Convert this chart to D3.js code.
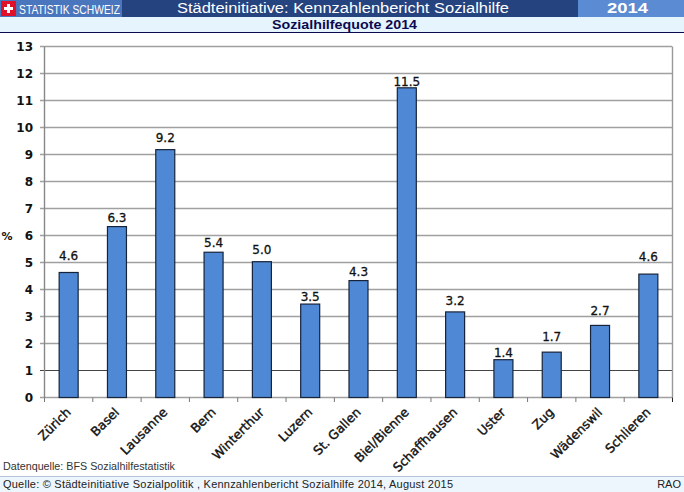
<!DOCTYPE html>
<html lang="de">
<head>
  <meta charset="utf-8" />
  <title>Sozialhilfequote 2014</title>
  <style>
    html, body { margin: 0; padding: 0; background: #fff; }
    svg { display: block; }
    text { font-family: "Liberation Sans", Arial, sans-serif; }
    .val, .tick-lab, .cat { font-family: "DejaVu Sans", Verdana, sans-serif; fill: #111; }
  </style>
</head>
<body>
<script src="https://cdn.jsdelivr.net/npm/d3@7"></script>
<script>
  // v = bar height, label = printed value, gap = label lift above the bar
  const data = [
    {city: "Zürich", v: 4.63, label: "4.6", gap: 12},
    {city: "Basel", v: 6.33, label: "6.3", gap: 5},
    {city: "Lausanne", v: 9.18, label: "9.2", gap: 8},
    {city: "Bern", v: 5.38, label: "5.4", gap: 5},
    {city: "Winterthur", v: 5.03, label: "5.0", gap: 8},
    {city: "Luzern", v: 3.46, label: "3.5", gap: 3},
    {city: "St. Gallen", v: 4.33, label: "4.3", gap: 5},
    {city: "Biel/Bienne", v: 11.47, label: "11.5", gap: 2},
    {city: "Schaffhausen", v: 3.17, label: "3.2", gap: 7},
    {city: "Uster", v: 1.4, label: "1.4", gap: 3},
    {city: "Zug", v: 1.68, label: "1.7", gap: 11},
    {city: "Wädenswil", v: 2.67, label: "2.7", gap: 10},
    {city: "Schlieren", v: 4.57, label: "4.6", gap: 13},
  ];

  const svg = d3.select("body").append("svg")
      .attr("width", 684)
      .attr("height", 492);

  // header
  svg.append("rect").attr("width", 684).attr("height", 17).attr("fill", "#24437f");
  svg.append("rect").attr("width", 122).attr("height", 17).attr("fill", "#4a76bd");
  svg.append("rect").attr("x", 578).attr("width", 106).attr("height", 17).attr("fill", "#5b8bd3");
  svg.append("rect").attr("y", 17).attr("width", 684).attr("height", 15).attr("fill", "#e6f4fd");
  svg.append("rect").attr("y", 32).attr("width", 684).attr("height", 1).attr("fill", "#0a0a50");

  // swiss flag
  svg.append("rect").attr("x", 1).attr("y", 1).attr("width", 15).attr("height", 15).attr("fill", "#e0102a");
  svg.append("rect").attr("x", 4).attr("y", 7).attr("width", 9).attr("height", 3).attr("fill", "#fff");
  svg.append("rect").attr("x", 7).attr("y", 4).attr("width", 3).attr("height", 9).attr("fill", "#fff");

  svg.append("text").attr("x", 19).attr("y", 14)
      .attr("font-size", 13.5).attr("fill", "#fff")
      .attr("textLength", 101).attr("lengthAdjust", "spacingAndGlyphs")
      .text("STATISTIK SCHWEIZ");
  svg.append("text").attr("x", 177).attr("y", 13)
      .attr("font-size", 15.5).attr("fill", "#fff")
      .attr("textLength", 332).attr("lengthAdjust", "spacingAndGlyphs")
      .text("Städteinitiative: Kennzahlenbericht Sozialhilfe");
  svg.append("text").attr("x", 607).attr("y", 13)
      .attr("font-size", 15).attr("font-weight", "bold").attr("fill", "#fff")
      .attr("textLength", 41).attr("lengthAdjust", "spacingAndGlyphs")
      .text("2014");
  svg.append("text").attr("x", 272).attr("y", 29)
      .attr("font-size", 13).attr("font-weight", "bold").attr("fill", "#0a0a50")
      .attr("textLength", 145).attr("lengthAdjust", "spacingAndGlyphs")
      .text("Sozialhilfequote 2014");

  // scales
  const x = d3.scaleBand(data.map(d => d.city), [44.5, 672.5]);
  const y = d3.scaleLinear([0, 13], [397.5, 46.5]);
  const barW = 19;

  // grid
  svg.append("g").selectAll("line")
    .data(d3.range(0, 14))
    .join("line")
      .attr("x1", 40)
      .attr("x2", 672)
      .attr("y1", d => y(d))
      .attr("y2", d => y(d))
      .attr("stroke", d => d == 1 ? "#444" : "#a0a0a0")
      .attr("stroke-width", d => d == 1 ? 1 : 1.4);

  // frame
  svg.append("line").attr("x1", 44.5).attr("x2", 44.5).attr("y1", 46.5).attr("y2", 397.5)
      .attr("stroke", "#888").attr("stroke-width", 1.4);
  svg.append("line").attr("x1", 672.5).attr("x2", 672.5).attr("y1", 46.5).attr("y2", 397.5)
      .attr("stroke", "#999").attr("stroke-width", 1.4);

  // x ticks
  svg.append("g").selectAll("line")
    .data(d3.range(0, 14))
    .join("line")
      .attr("x1", i => 44.5 + i * x.step())
      .attr("x2", i => 44.5 + i * x.step())
      .attr("y1", 397.5)
      .attr("y2", 402)
      .attr("stroke", i => i == 13 ? "#222" : "#777");

  // y labels
  svg.append("g").selectAll("text")
    .data(d3.range(0, 14))
    .join("text")
      .attr("class", "tick-lab")
      .attr("x", 33)
      .attr("y", d => y(d) + 4.5)
      .attr("text-anchor", "end")
      .attr("font-size", 12)
      .attr("font-weight", "bold")
      .text(d => d);

  svg.append("text").attr("class", "tick-lab")
      .attr("x", 7).attr("y", 240)
      .attr("text-anchor", "middle").attr("font-size", 11).attr("font-weight", "bold")
      .text("%");

  // bars
  svg.append("g").selectAll("rect")
    .data(data)
    .join("rect")
      .attr("x", d => x(d.city) + x.bandwidth() / 2 - barW / 2)
      .attr("y", d => y(d.v))
      .attr("width", barW)
      .attr("height", d => y(0) - y(d.v))
      .attr("fill", "#4f88d4")
      .attr("stroke", "#16243a")
      .attr("stroke-width", 1.2);

  // value labels
  svg.append("g").selectAll("text")
    .data(data)
    .join("text")
      .attr("class", "val")
      .attr("x", d => x(d.city) + x.bandwidth() / 2)
      .attr("y", d => y(d.v) - d.gap)
      .attr("text-anchor", "middle")
      .attr("font-size", 12)
      .style("stroke", "#111")
      .style("stroke-width", 0.3)
      .text(d => d.label);

  // category labels
  svg.append("g").selectAll("text")
    .data(data)
    .join("text")
      .attr("class", "cat")
      .attr("text-anchor", "end")
      .attr("font-size", 12.5)
      .style("stroke", "#111")
      .style("stroke-width", 0.4)
      .attr("transform", d => `translate(${x(d.city) + x.bandwidth() / 2 + 3},${413}) rotate(-45)`)
      .text(d => d.city);

  // footer
  svg.append("text").attr("x", 3).attr("y", 470)
      .attr("font-size", 11).attr("fill", "#333")
      .attr("textLength", 172).attr("lengthAdjust", "spacingAndGlyphs")
      .text("Datenquelle: BFS Sozialhilfestatistik");
  svg.append("rect").attr("y", 477).attr("width", 684).attr("height", 15).attr("fill", "#eef6fd");
  svg.append("rect").attr("y", 476).attr("width", 684).attr("height", 1).attr("fill", "#b4c4da");
  svg.append("text").attr("x", 3).attr("y", 488)
      .attr("font-size", 11).attr("fill", "#222")
      .attr("textLength", 450)
      .text("Quelle: © Städteinitiative Sozialpolitik , Kennzahlenbericht Sozialhilfe 2014, August 2015");
  svg.append("text").attr("x", 681).attr("y", 488)
      .attr("text-anchor", "end").attr("font-size", 11).attr("fill", "#222")
      .text("RAO");
</script>
</body>
</html>
